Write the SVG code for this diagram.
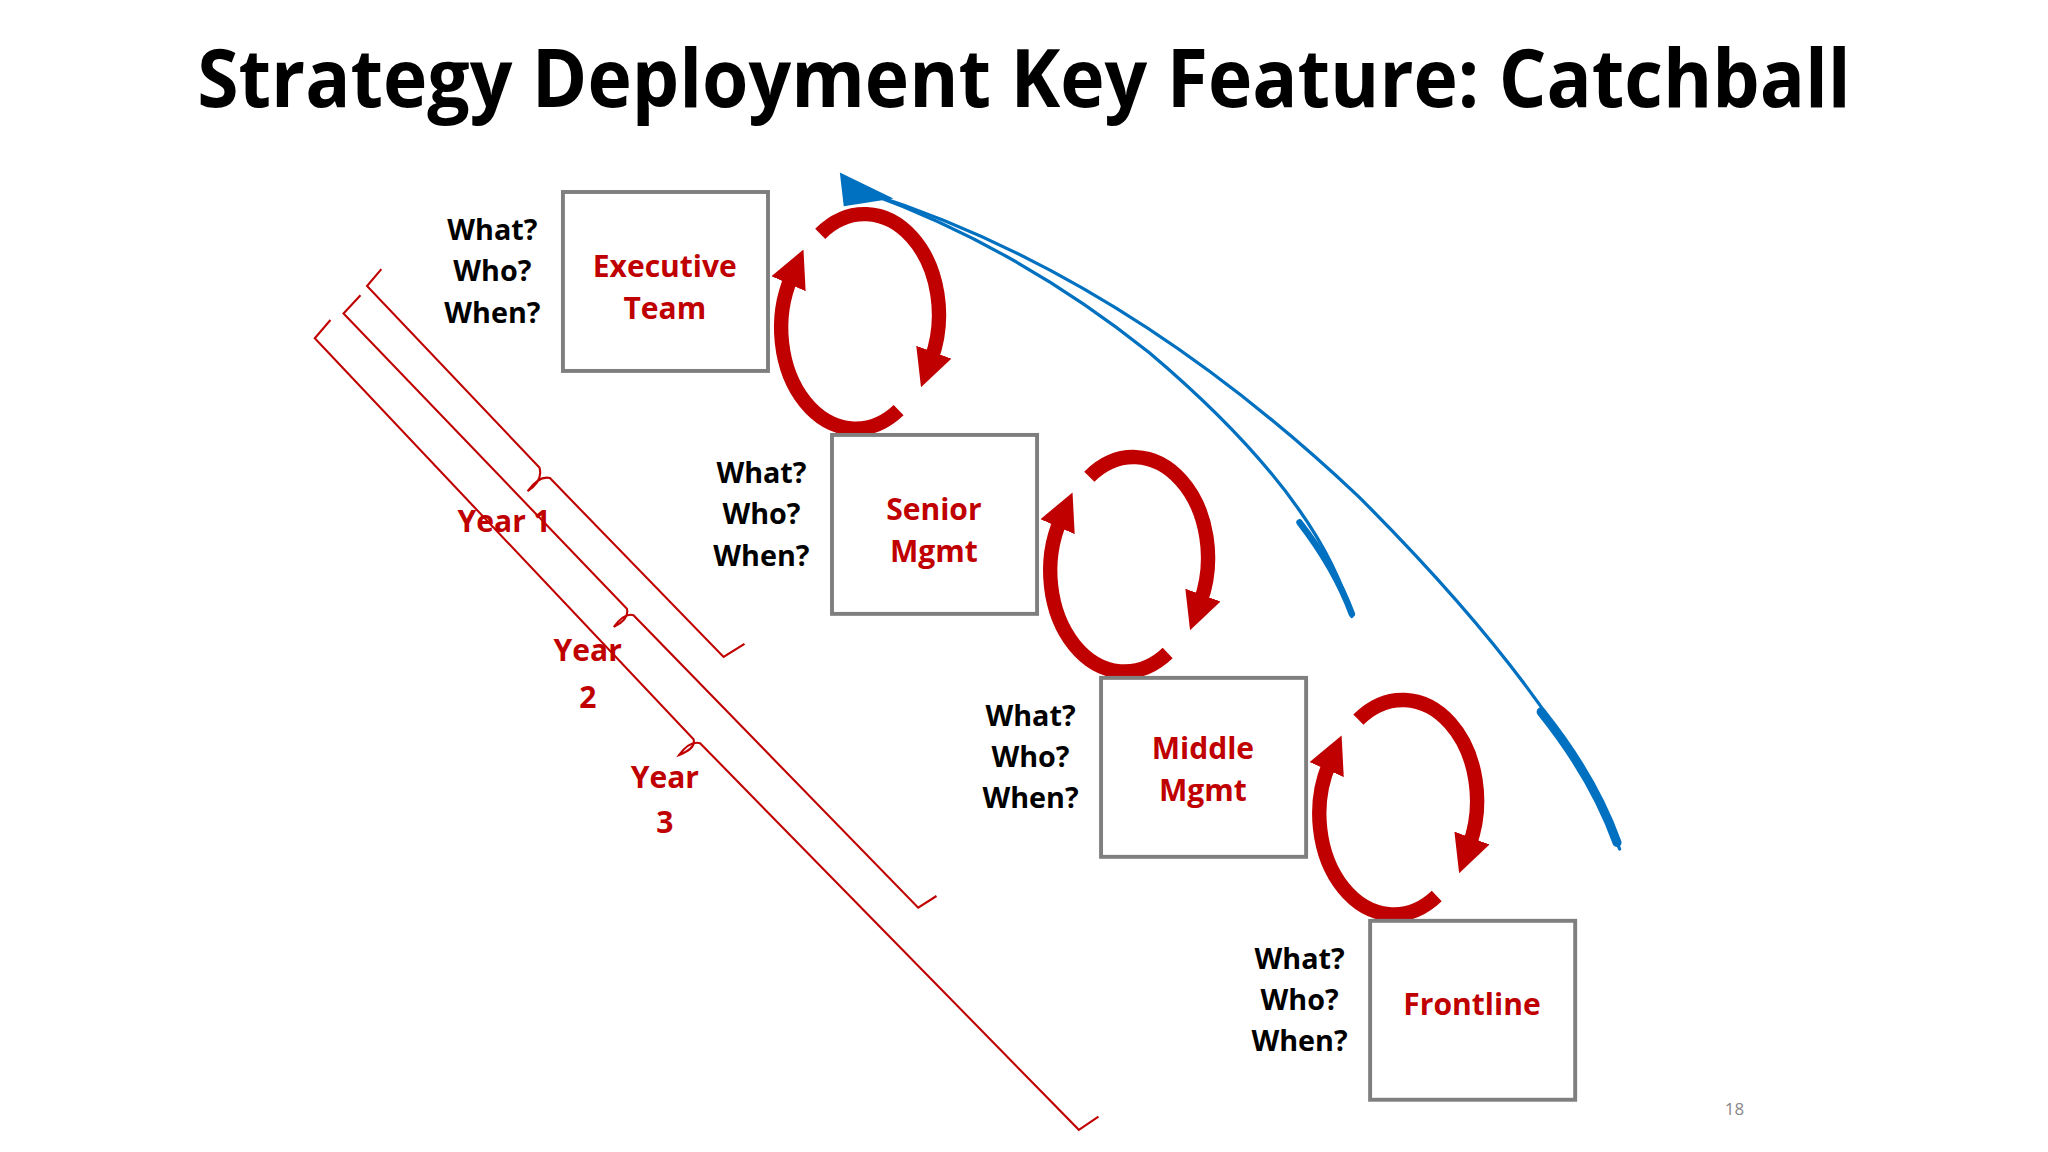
<svg xmlns="http://www.w3.org/2000/svg" width="2048" height="1152" viewBox="0 0 2048 1152">
<style>
.box{fill:#fff;stroke:#7f7f7f;stroke-width:3}
.lbl{font-family:"Open Sans","Noto Sans",sans-serif;font-weight:bold;font-size:23px;fill:#c00000;text-anchor:middle}
.q{font-family:"Open Sans","Noto Sans",sans-serif;font-weight:bold;font-size:22px;fill:#000;text-anchor:middle}
.rarc{fill:none;stroke:#c00000;stroke-width:11;stroke-linecap:butt}
.blue{fill:none;stroke:#0070c0;stroke-linecap:round}
.br{fill:none;stroke:#c00000;stroke-width:1.6}
</style>
<defs>
<marker id="ra" viewBox="0 0 10 10" refX="2" refY="5" markerWidth="2.6" markerHeight="2.6" orient="auto" markerUnits="strokeWidth"><path d="M0,0 L10,5 L0,10 z" fill="#c00000"/></marker>
<g id="cyc">
<path class="rarc" d="M688,314 A57,77 0 0 1 606,212" marker-end="url(#ra)"/>
<path class="rarc" d="M628,179 A57,77 0 0 1 713,275" marker-end="url(#ra)"/>
</g>
</defs>
<rect width="2048" height="1152" fill="#fff"/>
<g transform="scale(1.30612)">
<text x="784" y="82" font-family="Open Sans,Noto Sans,sans-serif" font-weight="bold" font-size="62" text-anchor="middle" textLength="1266" lengthAdjust="spacingAndGlyphs">Strategy Deployment Key Feature: Catchball</text>

<g id="connectors">
<use href="#cyc"/>
<use href="#cyc" transform="translate(206,186)"/>
<use href="#cyc" transform="translate(412,372)"/>
<path class="blue" stroke-width="2.5" d="M1035,472 Q1010,380 880,270 Q780,190 665,148"/>
<path class="blue" stroke-width="5" d="M1035,470 Q1022,435 995,400"/>
<path class="blue" stroke-width="2.5" d="M1240,650 Q1200,540 1040,380 Q860,210 665,148"/>
<path class="blue" stroke-width="7" d="M1238,645 Q1220,595 1180,545"/>
<polygon points="643,132 646,158 684,152" fill="#0070c0"/>
<path class="br" d="M292,206 L281,219 L413,358 Q416,368 404,376 Q413,364 421,366 L554,503 L570,493"/>
<path class="br" d="M276,226 L263,240 L480,466 Q482,474 470,480 Q478,469 485,471 L703,695 L717,686"/>
<path class="br" d="M253,245 L241,259 L531,566 Q533,573 520,578 Q528,567 536,569 L826,865 L841,855"/>
</g>

<g id="exec"><rect class="box" x="431" y="147" width="157" height="137"/><text class="lbl" x="509" y="212">Executive</text><text class="lbl" x="509" y="244">Team</text>
<text class="q" x="377" y="184">What?</text><text class="q" x="377" y="215">Who?</text><text class="q" x="377" y="247">When?</text></g>
<g id="senior"><rect class="box" x="637" y="333" width="157" height="137"/><text class="lbl" x="715" y="398">Senior</text><text class="lbl" x="715" y="430">Mgmt</text>
<text class="q" x="583" y="370">What?</text><text class="q" x="583" y="401">Who?</text><text class="q" x="583" y="433">When?</text></g>
<g id="middle"><rect class="box" x="843" y="519" width="157" height="137"/><text class="lbl" x="921" y="581">Middle</text><text class="lbl" x="921" y="613">Mgmt</text>
<text class="q" x="789" y="556">What?</text><text class="q" x="789" y="587">Who?</text><text class="q" x="789" y="619">When?</text></g>
<g id="frontline"><rect class="box" x="1049" y="705" width="157" height="137"/><text class="lbl" x="1127" y="777">Frontline</text>
<text class="q" x="995" y="742">What?</text><text class="q" x="995" y="773">Who?</text><text class="q" x="995" y="805">When?</text></g>

<g id="years">
<text class="lbl" x="386" y="407">Year 1</text>
<text class="lbl" x="450" y="506">Year</text><text class="lbl" x="450" y="542">2</text>
<text class="lbl" x="509" y="603">Year</text><text class="lbl" x="509" y="638">3</text>
</g>
<text x="1328" y="854" font-family="Open Sans,sans-serif" font-size="13" fill="#888" text-anchor="middle">18</text>
</g>
</svg>
